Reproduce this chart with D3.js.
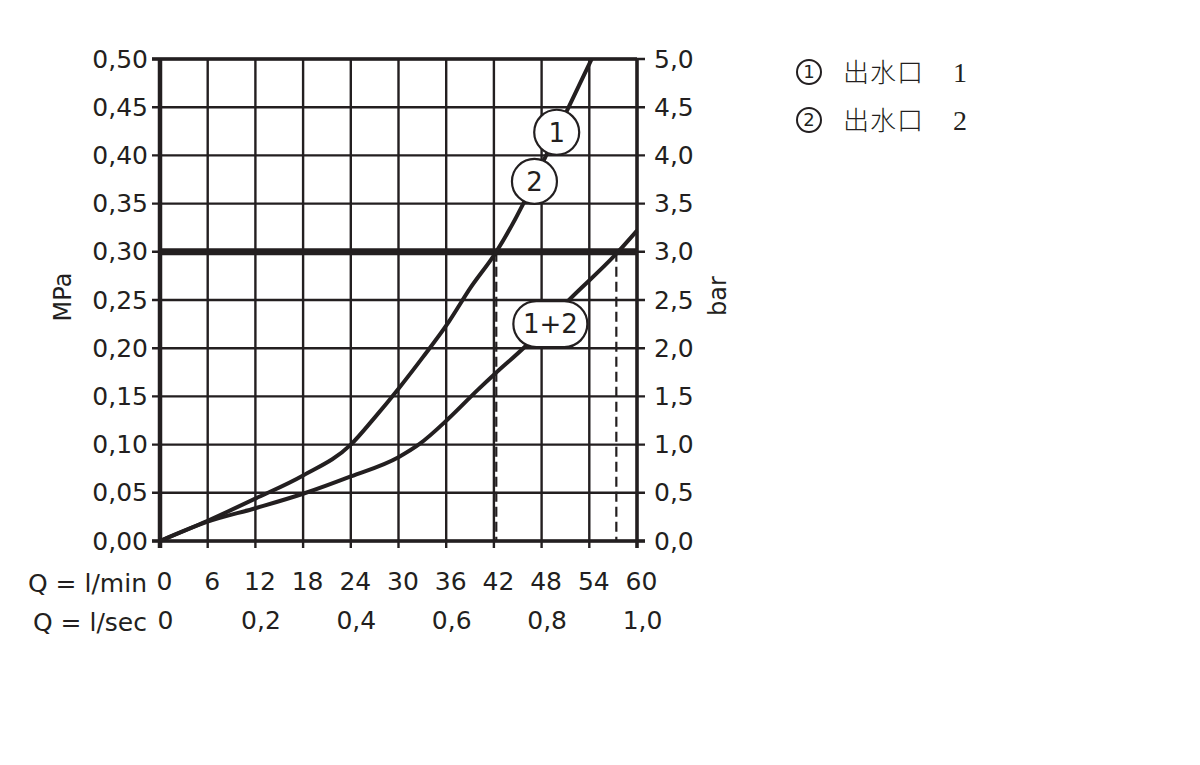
<!DOCTYPE html>
<meta charset="utf-8">
<style>
  body { margin: 0; background: #fff; }
  text { font-family: "DejaVu Sans", sans-serif; fill: #231f20; }
  .grid line { stroke: #231f20; stroke-width: 2.4; }
  .curve { fill: none; stroke: #231f20; stroke-width: 4; }
</style>
<body>
<script src="https://cdn.jsdelivr.net/npm/d3@7"></script>
<script>

// tick values
var qMinTicks = [0, 6, 12, 18, 24, 30, 36, 42, 48, 54, 60];
var qSecTicks = [0, 0.2, 0.4, 0.6, 0.8, 1.0];
var mpaTicks = [0, 0.05, 0.10, 0.15, 0.20, 0.25, 0.30, 0.35, 0.40, 0.45, 0.50];
var barTicks = [0, 0.5, 1.0, 1.5, 2.0, 2.5, 3.0, 3.5, 4.0, 4.5, 5.0];

// single outlet curve (1 and 2 coincide)
var singleQ = [0, 6, 12, 18, 24, 27, 30, 33, 36.3, 39, 42.3, 45.7, 48, 51, 54.3];
var singleP = [0, 0.021, 0.044, 0.068, 0.100, 0.128, 0.158, 0.190, 0.227, 0.262, 0.300, 0.350, 0.390, 0.443, 0.500];

// both outlets open
var bothQ = [0, 6, 12, 18, 24, 30, 32.7, 36.3, 40, 42.2, 45.9, 51.2, 57.4, 60];
var bothP = [0, 0.020, 0.034, 0.049, 0.067, 0.087, 0.101, 0.127, 0.157, 0.174, 0.2015, 0.248, 0.298, 0.322];

// reference pressure and flow read-offs
var refP = 0.30;
var readQ = [42.3, 57.4];

// curve labels
var labelText = ["2", "1", "1+2"];
var labelQ = [47.1, 49.9, 49.1];
var labelP = [0.373, 0.424, 0.225];

var legendNum = ["1", "2"];
var legendName = ["出水口", "出水口"];

var svg = d3.select("body").append("svg")
    .attr("width", 1200)
    .attr("height", 765);

var x = d3.scaleLinear().domain([0, 60]).range([160, 637]);
var y = d3.scaleLinear().domain([0, 0.5]).range([541, 59]);
var fmt = function (d, p) { return d3.format("." + p + "f")(d).replace(".", ","); };

// grid
var grid = svg.append("g").attr("class", "grid");
grid.selectAll(".v").data(qMinTicks).enter().append("line")
    .attr("x1", function (d) { return x(d); })
    .attr("x2", function (d) { return x(d); })
    .attr("y1", y(0.5)).attr("y2", y(0) + 7);
grid.selectAll(".h").data(mpaTicks).enter().append("line")
    .attr("y1", function (d) { return y(d); })
    .attr("y2", function (d) { return y(d); })
    .attr("x1", x(0) - 8).attr("x2", x(60) + 8);

// frame
svg.append("line").attr("x1", x(0)).attr("x2", x(0)).attr("y1", y(0.5)).attr("y2", y(0) + 7)
    .attr("stroke", "#231f20").attr("stroke-width", 4.5);
svg.append("line").attr("x1", x(60)).attr("x2", x(60)).attr("y1", y(0.5)).attr("y2", y(0) + 7)
    .attr("stroke", "#231f20").attr("stroke-width", 3.5);
svg.append("line").attr("x1", x(0) - 8).attr("x2", x(60)).attr("y1", y(0.5)).attr("y2", y(0.5))
    .attr("stroke", "#231f20").attr("stroke-width", 3.5);
svg.append("line").attr("x1", x(0) - 8).attr("x2", x(60) + 8).attr("y1", y(0)).attr("y2", y(0))
    .attr("stroke", "#231f20").attr("stroke-width", 3.5);

// reference line at 0.30 MPa
svg.append("line").attr("x1", x(0)).attr("x2", x(60)).attr("y1", y(refP)).attr("y2", y(refP))
    .attr("stroke", "#231f20").attr("stroke-width", 7);

// dashed read-off lines
svg.selectAll(".dash").data(readQ).enter().append("line")
    .attr("x1", function (d) { return x(d); })
    .attr("x2", function (d) { return x(d); })
    .attr("y1", y(refP)).attr("y2", y(0))
    .attr("stroke", "#231f20").attr("stroke-width", 2.2)
    .attr("stroke-dasharray", "10,5");

// curves
var line = d3.line()
    .x(function (d) { return x(d[0]); })
    .y(function (d) { return y(d[1]); })
    .curve(d3.curveMonotoneX);

svg.append("path").attr("class", "curve")
    .attr("d", line(d3.zip(singleQ, singleP)));
svg.append("path").attr("class", "curve")
    .attr("d", line(d3.zip(bothQ, bothP)));

// curve labels
labelText.forEach(function (t, i) {
    var g = svg.append("g").attr("transform", "translate(" + x(labelQ[i]) + "," + y(labelP[i]) + ")");
    var w = t.length > 1 ? 74 : 45;
    var h = t.length > 1 ? 46 : 45;
    g.append("rect")
        .attr("x", -w / 2).attr("y", -h / 2).attr("width", w).attr("height", h)
        .attr("rx", h / 2).attr("ry", h / 2)
        .attr("fill", "#fff").attr("stroke", "#231f20").attr("stroke-width", 2.2);
    g.append("text")
        .attr("text-anchor", "middle").attr("dy", "0.36em")
        .attr("font-size", 26)
        .text(t);
});

// left axis labels
var yl = svg.append("g").attr("transform", "translate(" + (x(0) - 12) + ",0)")
    .call(d3.axisLeft(y).tickValues(mpaTicks).tickSize(0).tickPadding(0)
        .tickFormat(function (d) { return fmt(d, 2); }));
yl.select(".domain").remove();
yl.selectAll("text").attr("font-size", 25).attr("fill", "#231f20");

// right axis labels (bar)
var yb = d3.scaleLinear().domain([0, 5]).range(y.range());
var yr = svg.append("g").attr("transform", "translate(" + (x(60) + 17) + ",0)")
    .call(d3.axisRight(yb).tickValues(barTicks).tickSize(0).tickPadding(0)
        .tickFormat(function (d) { return fmt(d, 1); }));
yr.select(".domain").remove();
yr.selectAll("text").attr("font-size", 25).attr("fill", "#231f20");

// bottom labels: l/min
var xm = svg.append("g").attr("transform", "translate(4,572)")
    .call(d3.axisBottom(x).tickValues(qMinTicks).tickSize(0).tickPadding(0)
        .tickFormat(function (d) { return d; }));
xm.select(".domain").remove();
xm.selectAll("text").attr("font-size", 25).attr("fill", "#231f20");

// bottom labels: l/sec
var xs = d3.scaleLinear().domain([0, 1]).range(x.range());
var xsg = svg.append("g").attr("transform", "translate(5,611)")
    .call(d3.axisBottom(xs).tickValues(qSecTicks).tickSize(0).tickPadding(0)
        .tickFormat(function (d) { return d === 0 ? "0" : fmt(d, 1); }));
xsg.select(".domain").remove();
xsg.selectAll("text").attr("font-size", 25).attr("fill", "#231f20");

svg.append("text").attr("x", 147).attr("y", 592).attr("text-anchor", "end")
    .attr("font-size", 25).text("Q = l/min");
svg.append("text").attr("x", 147).attr("y", 631).attr("text-anchor", "end")
    .attr("font-size", 25).text("Q = l/sec");

// axis titles
svg.append("text").attr("transform", "translate(71,297) rotate(-90)")
    .attr("text-anchor", "middle").attr("font-size", 24).text("MPa");
svg.append("text").attr("transform", "translate(726,296) rotate(-90)")
    .attr("text-anchor", "middle").attr("font-size", 24).text("bar");

// legend
legendNum.forEach(function (n, i) {
    var yy = 72 + i * 48;
    svg.append("circle").attr("cx", 809).attr("cy", yy).attr("r", 12)
        .attr("fill", "none").attr("stroke", "#231f20").attr("stroke-width", 2);
    svg.append("text").attr("x", 809).attr("y", yy).attr("dy", "0.36em")
        .attr("text-anchor", "middle").attr("font-size", 18).text(n);
    svg.append("text").attr("x", 843).attr("y", yy + 10).attr("font-size", 26)
        .attr("letter-spacing", 1)
        .style("font-family", "'Noto Sans CJK SC'").style("font-weight", 300)
        .text(legendName[i]);
    svg.append("text").attr("x", 953).attr("y", yy + 10).attr("font-size", 28)
        .style("font-family", "'Liberation Serif'").text(n);
});

</script>
</body>
